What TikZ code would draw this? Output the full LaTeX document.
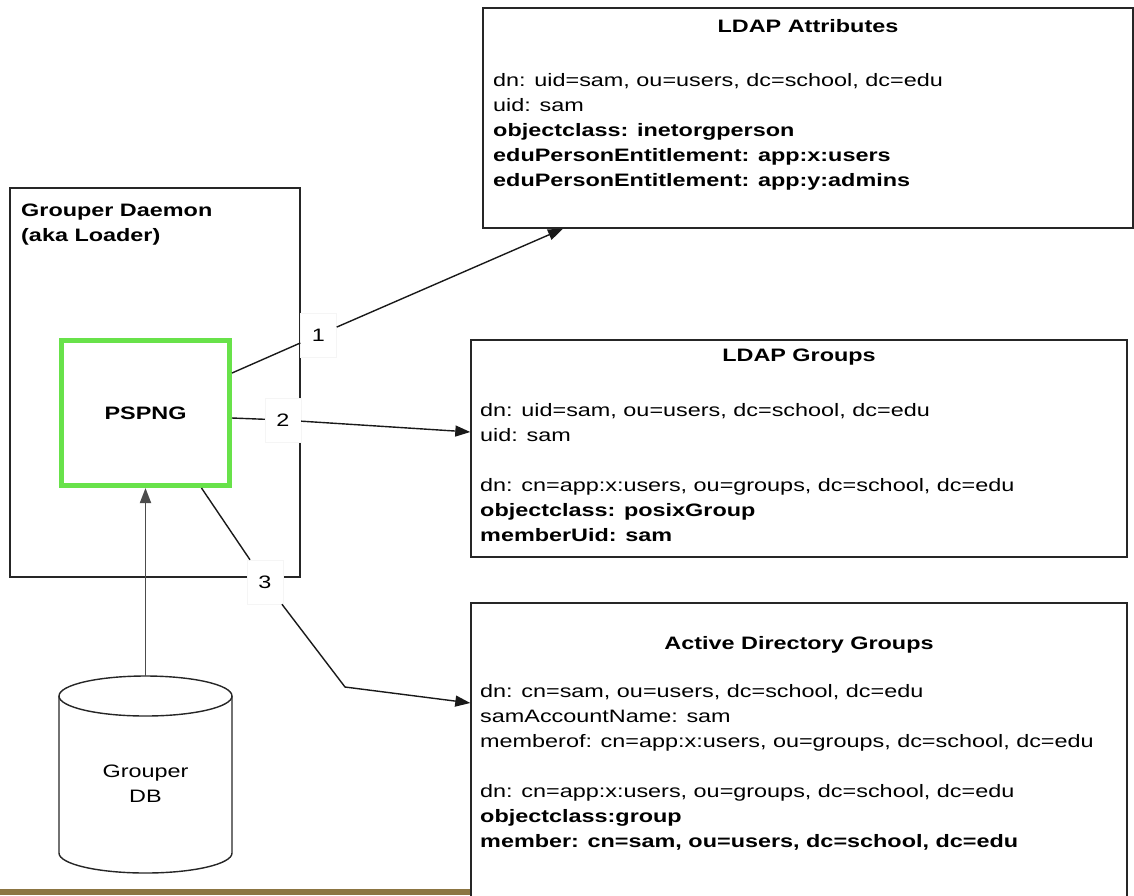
\documentclass[tikz,border=0pt]{standalone}
\usepackage{fontspec}
\setmainfont{Liberation Sans}[FakeStretch=1.3]
\usetikzlibrary{arrows.meta}
\definecolor{pspnggreen}{RGB}{104,226,74}
\definecolor{footbrown}{RGB}{140,117,66}
\begin{document}
\begin{tikzpicture}[x=1pt,y=-1pt,font=\fontsize{18}{25}\selectfont,
	box/.style={draw=black!85,line width=1.4pt,inner sep=0pt},
	txt/.style={anchor=north west,align=left,inner sep=0pt},
	ttl/.style={anchor=base,inner sep=0pt,font=\fontsize{18}{25}\selectfont\bfseries},
	lbl/.style={fill=white,draw=black!4,minimum width=36,minimum height=44,inner sep=0pt},
	conn/.style={draw=black!90,line width=1.4pt},
	arr/.style={conn,-{Triangle[length=15pt,width=11pt]}}]
	\clip (0,0) rectangle (1134,895);

	% Grouper Daemon
	\node[box,minimum width=290,minimum height=389] (daemon) at (155,382.5) {};
	\node[txt,font=\fontsize{18}{25}\selectfont\bfseries] (daemontxt) at (21,204) {Grouper Daemon\\(aka Loader)};
	\node[draw=pspnggreen,line width=5pt,minimum width=168,minimum height=145,
		font=\fontsize{18}{25}\selectfont\bfseries] (pspng) at (145.5,413) {PSPNG};

	% Grouper DB
	\draw[line width=1.4pt,draw=black!85] (59,696) -- (59,853)
		arc[start angle=180,end angle=360,x radius=86.5pt,y radius=20pt] -- (232,696);
	\draw[line width=1.4pt,draw=black!85] (145.5,696) ellipse[x radius=86.5pt,y radius=20pt];
	\coordinate (dbtop) at (145.5,676);
	\node[align=center,inner sep=0pt] (db) at (145.5,784) {Grouper\\DB};

	% Targets
	\node[box,minimum width=650,minimum height=220] (attr) at (808,118) {};
	\node[ttl] (attrttl) at (808,32) {LDAP Attributes};
	\node[txt] (attrtxt) at (493,73) {dn: uid=sam, ou=users, dc=school, dc=edu\\
		uid: sam\\
		\textbf{objectclass: inetorgperson}\\
		\textbf{eduPersonEntitlement: app:x:users}\\
		\textbf{eduPersonEntitlement: app:y:admins}};

	\node[box,minimum width=656,minimum height=217] (groups) at (799,448.5) {};
	\node[ttl] (groupsttl) at (799,361) {LDAP Groups};
	\node[txt] (groupstxt) at (480,403) {dn: uid=sam, ou=users, dc=school, dc=edu\\
		uid: sam\\[25pt]
		dn: cn=app:x:users, ou=groups, dc=school, dc=edu\\
		\textbf{objectclass: posixGroup}\\
		\textbf{memberUid: sam}};

	\node[box,minimum width=656,minimum height=320] (ad) at (799,763) {};
	\node[ttl] (adttl) at (799,649) {Active Directory Groups};
	\node[txt] (adtxt) at (480,684) {dn: cn=sam, ou=users, dc=school, dc=edu\\
		samAccountName: sam\\
		memberof: cn=app:x:users, ou=groups, dc=school, dc=edu\\[25pt]
		dn: cn=app:x:users, ou=groups, dc=school, dc=edu\\
		\textbf{objectclass:group}\\
		\textbf{member: cn=sam, ou=users, dc=school, dc=edu}};

	% Step labels
	\node[lbl] (one) at (318.5,335) {1};
	\node[lbl] (two) at (283,420) {2};
	\node[lbl] (three) at (265,582) {3};
	\coordinate (bend) at (345,687);

	% Connectors
	\draw[conn] ([yshift=40pt]pspng.east) -- (one);
	\draw[arr] (one) -- ([xshift=-245pt]attr.south);
	\draw[conn] ([yshift=-5pt]pspng.east) -- (two);
	\draw[arr] (two) -- ([yshift=16.5pt]groups.west);
	\draw[conn] ([xshift=56pt]pspng.south) -- (three);
	\draw[arr] (three) -- (bend) -- ([yshift=60pt]ad.west);
	\draw[arr,draw=black!70,line width=1.8pt] (dbtop) -- (pspng.south);

	% Footer strip
	\fill[footbrown] (0,889) rectangle (470,895);
\end{tikzpicture}
\end{document}
